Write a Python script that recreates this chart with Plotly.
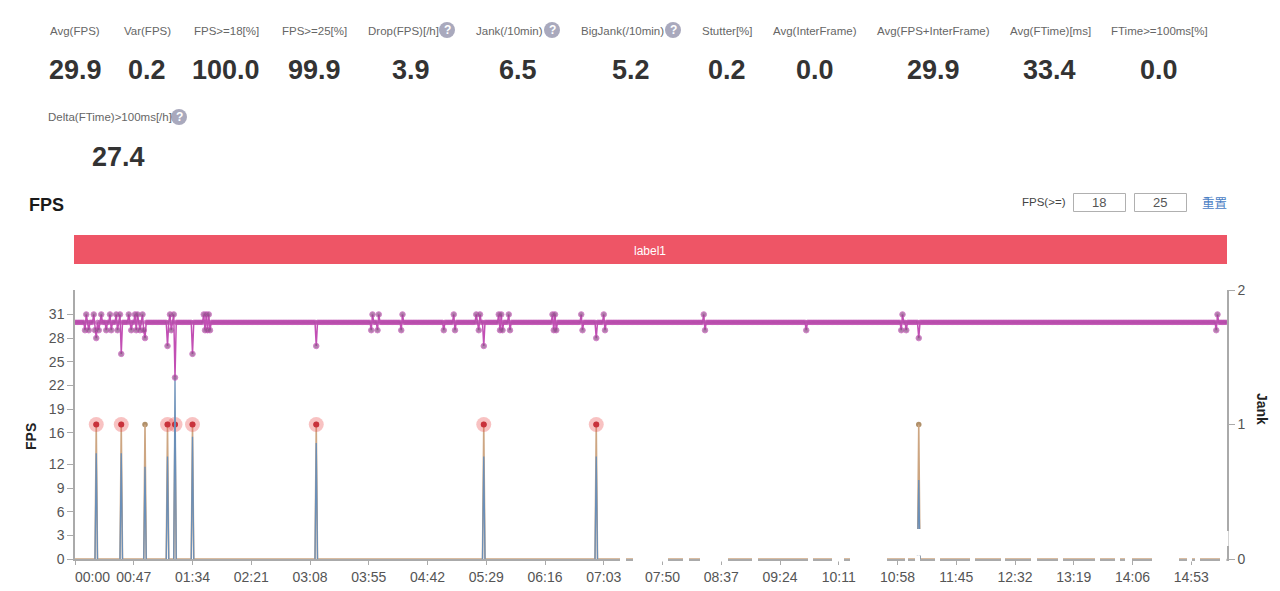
import plotly.graph_objects as go

# ---------- data ----------
duration_s = 921
tick_seconds = [47 * i for i in range(20)]
tick_labels = ["", "00:47", "01:34", "02:21", "03:08", "03:55", "04:42", "05:29", "06:16", "07:03",
               "07:50", "08:37", "09:24", "10:11", "10:58", "11:45", "12:32", "13:19", "14:06", "14:53"]
fps_ticks = [0, 3, 6, 9, 12, 16, 19, 22, 25, 28, 31]
jank_ticks = [0, 1, 2]

fps_normal = 30
fps_high_s = [9, 15, 21, 28, 33, 36, 43, 48, 50, 54, 76, 79, 103, 105, 107, 238, 243, 262, 303, 321, 324,
              339, 341, 347, 382, 384, 405, 423, 503, 662, 914]
fps_low_s = [8, 11, 16, 19, 25, 29, 34, 45, 49, 52, 55, 77, 104, 106, 108, 237, 242, 261, 295, 304, 323,
             340, 342, 348, 383, 385, 406, 424, 504, 585, 661, 665, 913]
fps_drop_s = [17, 37, 56, 74, 80, 94, 193, 327, 417, 675]
fps_drop_values = [28, 26, 28, 27, 23, 26, 27, 27, 28, 28]

jank_s = [17, 37, 56, 74, 80, 94, 193, 327, 417, 675]
bigjank_s = [17, 37, 74, 80, 94, 193, 327, 417]
ftime_peak_s = [17, 37, 56, 74, 80, 94, 193, 327, 417, 675]
ftime_peak_values = [13.4, 13.4, 11.7, 13, 23, 15.5, 14.7, 13, 13, 10]

kpi_row1 = ["Avg(FPS)", "Var(FPS)", "FPS>=18[%]", "FPS>=25[%]", "Drop(FPS)[/h]", "Jank(/10min)", "BigJank(/10min)",
            "Stutter[%]", "Avg(InterFrame)", "Avg(FPS+InterFrame)", "Avg(FTime)[ms]", "FTime>=100ms[%]"]
kpi_values1 = ["29.9", "0.2", "100.0", "99.9", "3.9", "6.5", "5.2", "0.2", "0.0", "29.9", "33.4", "0.0"]
kpi_row2 = "Delta(FTime)>100ms[/h]"
kpi_value2 = "27.4"

# ---------- layout constants (pixels of the 1280x591 page) ----------
L, R, T, B = 75, 1227, 290, 559
FONT = "Liberation Sans"
label_x = [75, 147, 226, 314, 403, 509.5, 622, 727, 815, 933, 1050, 1159]
value_x = [75, 147, 226, 314, 411, 518, 631, 727, 815, 933, 1049, 1159]
help_x = [447, 552, 673]
rule_gaps = [(620, 626), (633, 668), (683, 689), (700, 728), (752, 758), (808, 813), (832, 844), (850, 887),
             (905, 908), (915, 920), (935, 940), (970, 975), (1001, 1005), (1031, 1037), (1058, 1063),
             (1095, 1100), (1115, 1120), (1125, 1132), (1152, 1179), (1187, 1192), (1195, 1200), (1220, 1226.4)]


def px(x):
    return (x - L) / (R - L)


def py(y):
    return (B - y) / (B - T)


annotations, shapes = [], []


def text(s, x, y, size=11.5, color="#666666", bold=False, angle=0, family=FONT):
    annotations.append(dict(text=f"<b>{s}</b>" if bold else s, x=px(x), y=py(y), xref="paper", yref="paper",
                            showarrow=False, xanchor="center", yanchor="middle", textangle=angle,
                            font=dict(size=size, color=color, family=family)))


def rect(x0, x1, y0, y1, fill, line=None):
    shapes.append(dict(type="rect", xref="paper", yref="paper", x0=px(x0), x1=px(x1), y0=py(y0), y1=py(y1),
                       fillcolor=fill, line=dict(color=line or fill, width=1 if line else 0), layer="above"))


def help_icon(x, y):
    shapes.append(dict(type="circle", xref="paper", yref="paper", x0=px(x - 8), x1=px(x + 8), y0=py(y - 8),
                       y1=py(y + 8), fillcolor="#a9a9bd", line=dict(width=0), layer="above"))
    text("?", x, y, size=12, color="#ffffff", bold=True)


# ---------- series ----------
seconds = list(range(duration_s + 1))
fps = [fps_normal] * len(seconds)
for s in fps_high_s:
    fps[s] = 31
for s in fps_low_s:
    fps[s] = 29
for s, v in zip(fps_drop_s, fps_drop_values):
    fps[s] = v
fps_marker_size = [4.5 if v == fps_normal else 5.5 for v in fps]
fps_marker_color = ["#b04ea6" if v == fps_normal else "#8f4b88" for v in fps]

jank = [0] * len(seconds)
for s in jank_s:
    jank[s] = 1
ftime_x, ftime_y = [], []
for s, v in zip(ftime_peak_s, ftime_peak_values):
    ftime_x += [s - 1, s, s + 1, None]
    ftime_y += [0, v, 0, None]

fig = go.Figure()
fig.add_trace(go.Scatter(x=jank_s, y=[1] * len(jank_s), yaxis="y2", mode="markers", name="Jank",
                         marker=dict(size=5.5, color="#b0906a")))
fig.add_trace(go.Scatter(x=seconds, y=jank, yaxis="y2", mode="lines", name="Jank line",
                         line=dict(color="#cda682", width=1.6)))
fig.add_trace(go.Scatter(x=bigjank_s, y=[1] * len(bigjank_s), yaxis="y2", mode="markers", name="BigJank halo",
                         marker=dict(size=15, color="rgba(235,80,80,0.35)")))
fig.add_trace(go.Scatter(x=bigjank_s, y=[1] * len(bigjank_s), yaxis="y2", mode="markers", name="BigJank",
                         marker=dict(size=6, color="#c9323c")))
fig.add_trace(go.Scatter(x=ftime_x, y=ftime_y, mode="lines", name="FTime", connectgaps=False,
                         line=dict(color="#6a8fb8", width=1.3)))
fig.add_trace(go.Scatter(x=seconds, y=fps, mode="lines+markers", name="FPS",
                         line=dict(color="#c24fb4", width=1.5),
                         marker=dict(size=fps_marker_size, color=fps_marker_color)))

# ---------- page furniture ----------
for s, x in zip(kpi_row1, label_x):
    text(s, x, 31)
for s, x in zip(kpi_values1, value_x):
    text(s, x, 70, size=27, color="#333333", bold=True)
text(kpi_row2, 110, 117)
text(kpi_value2, 118, 157, size=27, color="#333333", bold=True)
for x in help_x:
    help_icon(x, 30)
help_icon(179, 117)

text("FPS", 46.5, 205, size=18, color="#1a1a1a", bold=True)
text("FPS(>=)", 1044, 202, size=11.5, color="#444444")
rect(1073.5, 1125.5, 193.5, 211.5, "#ffffff", "#b0b0b0")
rect(1134.5, 1186.5, 193.5, 211.5, "#ffffff", "#b0b0b0")
text("18", 1099, 202, size=13, color="#555555")
text("25", 1160, 202, size=13, color="#555555")
text("重置", 1214, 202, size=12.5, color="#4a80c4", family="Noto Sans CJK SC")

rect(74, 1227, 235, 264, "#ee5566")
text("label1", 650, 251, size=12, color="#ffffff")

text("00:00", 92, 577, size=14, color="#555555")
text("FPS", 31, 437, size=14, color="#222222", bold=True, angle=-90)
text("Jank", 1262, 409, size=14, color="#222222", bold=True, angle=90)

# erased stretches of the picture's bottom rule and of the last spike
for a, b in rule_gaps:
    rect(a, b, 555.5, 561.5, "#ffffff")
rect(915, 923, 529, 555.5, "#ffffff")
rect(1225.5, 1228.5, 531, 546, "#ffffff")

axis_style = dict(showgrid=False, zeroline=False, showline=True, linecolor="#aaaaaa", linewidth=1.5,
                  ticks="outside", tickcolor="#aaaaaa", tickwidth=1, ticklen=6, automargin=False,
                  tickfont=dict(size=14, color="#555555", family=FONT))
fig.update_layout(
    width=1280, height=591, autosize=False, showlegend=False, hovermode=False,
    paper_bgcolor="#ffffff", plot_bgcolor="#ffffff",
    margin=dict(l=L, r=1280 - R, t=T, b=591 - B, pad=0),
    xaxis=dict(range=[0, 921.6], tickmode="array", tickvals=tick_seconds, ticktext=tick_labels,
               **{**axis_style, "ticklen": 4}),
    yaxis=dict(range=[0, 34.1], tickmode="array", tickvals=fps_ticks, overlaying="y2", **axis_style),
    yaxis2=dict(range=[0, 2], tickmode="array", tickvals=jank_ticks, side="right", **axis_style),
    annotations=annotations, shapes=shapes,
)
fig.write_html("out.html", config=dict(displayModeBar=False),
               post_script="document.body.style.margin='0';document.body.style.overflow='hidden';")
